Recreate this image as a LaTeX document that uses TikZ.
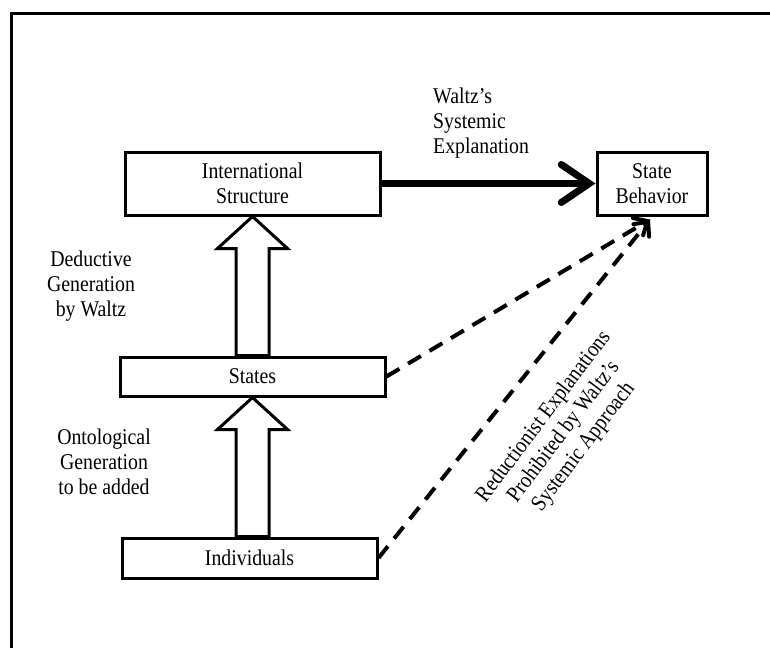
\documentclass[tikz,border=0pt]{standalone}
\usepackage{fontspec}
\setmainfont[FakeStretch=0.88]{Liberation Serif}
\usetikzlibrary{arrows.meta,calc}
\begin{document}
\begin{tikzpicture}[x=1pt,y=-1pt,
  every node/.style={font=\fontsize{22.5}{25}\selectfont},
  box/.style={draw,line width=3pt,inner sep=0pt,align=center,fill=white},
  lbl/.style={align=center,inner sep=0pt},
  hollow/.style={draw,line width=3pt,fill=white,line join=miter},
  dasharr/.style={line width=4pt,dash pattern=on 15pt off 10pt,
     -{Straight Barb[length=11pt,width=20pt,line width=4pt,line cap=round]}},
  bigarr/.style={line width=7pt,
     -{Straight Barb[length=28pt,width=38pt,line width=7pt,line cap=round]}}]
\useasboundingbox (0,0) rectangle (770,648);
% frame
\draw[line width=3pt] (11,648) -- (11,13) -- (770,13);
% boxes
\node[box,minimum width=255pt,minimum height=63pt] (is) at (252.5,183.5) {International\\Structure};
\node[box,minimum width=110pt,minimum height=63pt] (sb) at (652,183.5) {State\\Behavior};
\node[box,minimum width=265pt,minimum height=39pt] (st) at (252.5,376.5) {States};
\node[box,minimum width=255pt,minimum height=40pt] (ind) at (249.5,558) {Individuals};
% hollow arrows
\draw[hollow] (is.south) -- ($(is.south)+(35,32)$) -- ($(is.south)+(16.5,32)$)
  -- ($(st.north)+(16.5,0)$) -- ($(st.north)+(-16.5,0)$)
  -- ($(is.south)+(-16.5,32)$) -- ($(is.south)+(-35,32)$) -- cycle;
\draw[hollow] (st.south) -- ($(st.south)+(35,32)$) -- ($(st.south)+(16.5,32)$)
  -- ($(st.south |- ind.north)+(16.5,0)$) -- ($(st.south |- ind.north)+(-16.5,0)$)
  -- ($(st.south)+(-16.5,32)$) -- ($(st.south)+(-35,32)$) -- cycle;
% thick arrow
\draw[bigarr] (is.east) -- (sb.west);
% dashed arrows
\coordinate (tip) at ($(sb.south)+(-2,3)$);
\draw[dasharr] (st.east) -- (tip);
\draw[dasharr] (ind.east) -- (tip);
% labels
\node[lbl,align=left,anchor=north west] (wl) at (433,88) {Waltz's\\Systemic\\Explanation};
\node[lbl] (dg) at (91,286) {Deductive\\Generation\\by Waltz};
\node[lbl] (og) at (104,462) {Ontological\\Generation\\to be added};
\node[lbl,rotate=53] (rd) at (564,432) {Reductionist Explanations\\Prohibited by Waltz's\\Systemic Approach};
\end{tikzpicture}
\end{document}
